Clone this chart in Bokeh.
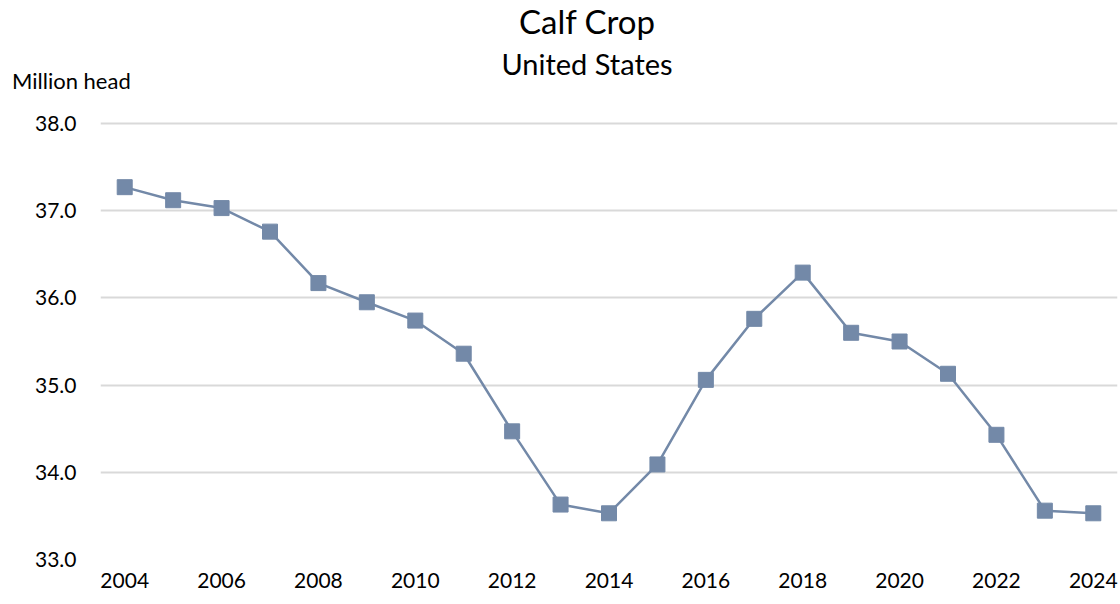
from bokeh.plotting import figure
from bokeh.models import Range1d, FixedTicker, NumeralTickFormatter, Div
from bokeh.layouts import column
from bokeh.embed import file_html
from bokeh.resources import INLINE

years = list(range(2004, 2025))
calves = [37.27, 37.12, 37.03, 36.76, 36.17, 35.95, 35.74, 35.36, 34.47, 33.63,
          33.53, 34.09, 35.06, 35.76, 36.29, 35.60, 35.50, 35.13, 34.43, 33.56, 33.53]
x_ticks = list(range(2004, 2025, 2))
y_ticks = [33, 34, 35, 36, 37, 38]
title = "Calf Crop"
subtitle = "United States"
unit_label = "Million head"

FONT = "Lato"
COLOR = "#7389a8"

header = Div(width=1120, height=100, text=f"""
<div style="position:relative;width:1120px;height:100px;font-family:{FONT};color:#000000;">
  <div style="position:absolute;left:582px;top:-3px;transform:translateX(-50%);font-size:33px;line-height:1.2;white-space:nowrap;">{title}</div>
  <div style="position:absolute;left:582px;top:42px;transform:translateX(-50%);font-size:29px;line-height:1.2;white-space:nowrap;">{subtitle}</div>
  <div style="position:absolute;left:7px;top:63px;font-size:22px;line-height:1.2;white-space:nowrap;">{unit_label}</div>
</div>""")

p = figure(width=1120, height=493, output_backend="svg", toolbar_location=None,
           x_range=Range1d(2003.5, 2024.5), y_range=Range1d(33, 38.046),
           min_border_left=100, min_border_right=3, min_border_top=9, min_border_bottom=44)
p.outline_line_color = None
p.xgrid.grid_line_color = None
p.ygrid.grid_line_color = "#d9d9d9"
p.ygrid.grid_line_width = 2

for ax in (p.xaxis[0], p.yaxis[0]):
    ax.axis_line_color = None
    ax.major_tick_line_color = None
    ax.minor_tick_line_color = None
    ax.major_label_text_font = FONT
    ax.major_label_text_font_size = "21px"
    ax.major_label_text_color = "#000000"

p.xaxis.ticker = FixedTicker(ticks=x_ticks)
p.yaxis.ticker = FixedTicker(ticks=y_ticks)
p.yaxis.formatter = NumeralTickFormatter(format="0.0")
p.xaxis.major_label_standoff = 7
p.yaxis.major_label_standoff = 18

p.line(years, calves, line_color=COLOR, line_width=2.5)
p.scatter(years, calves, marker="square", size=15, fill_color=COLOR, line_color=COLOR)

layout = column(header, p, spacing=0)
open("out.html", "w").write(file_html(layout, INLINE))
